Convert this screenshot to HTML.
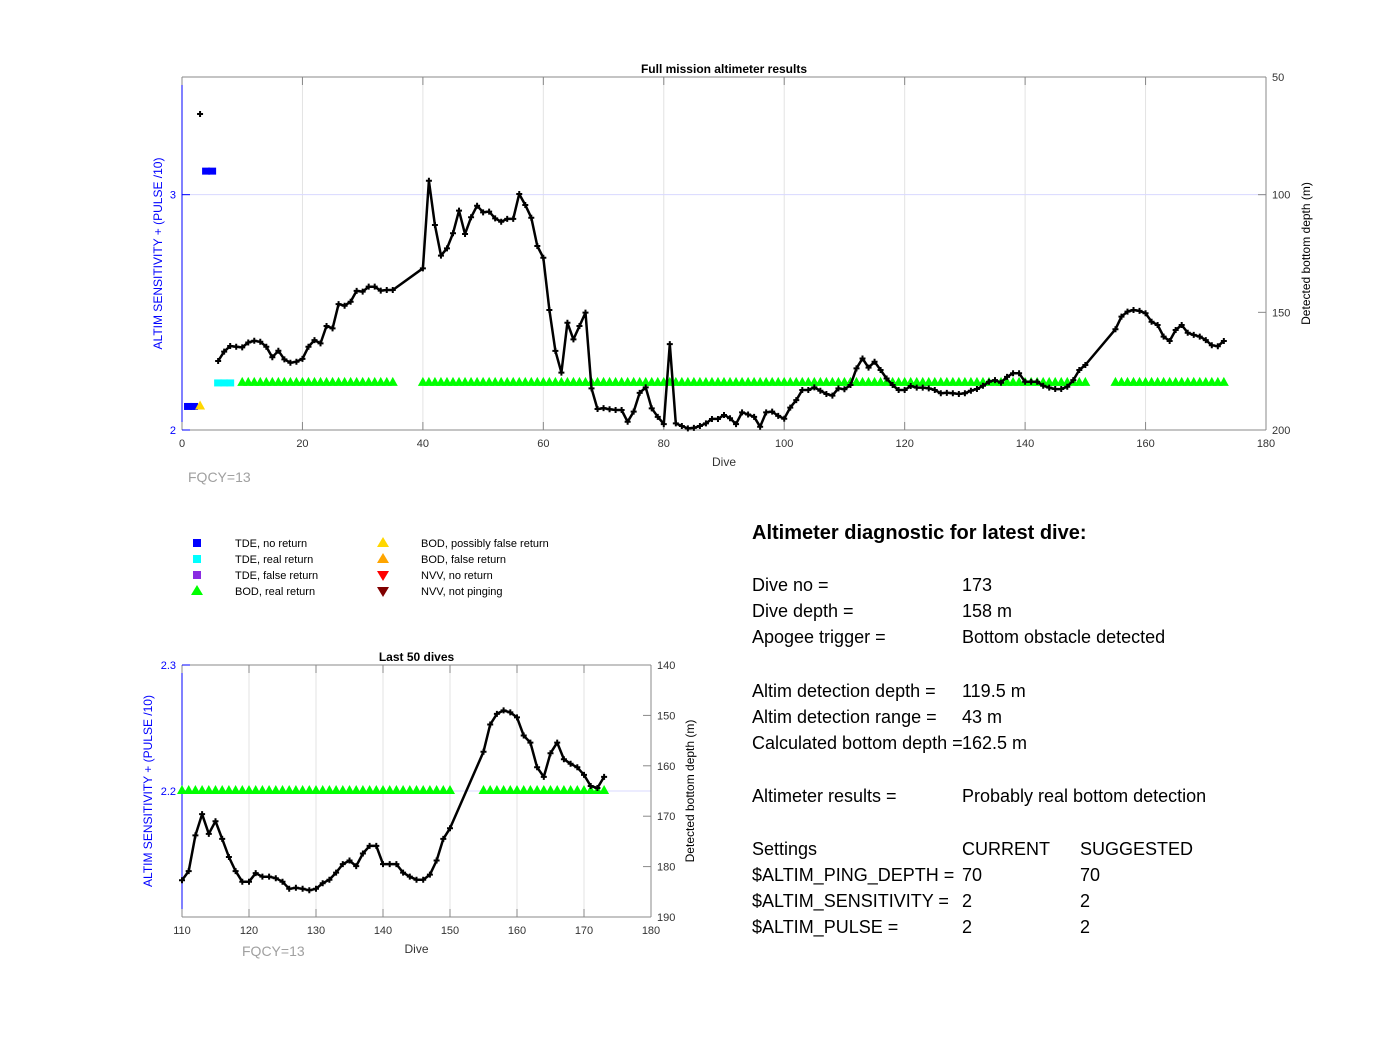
<!DOCTYPE html>
<html><head><meta charset="utf-8">
<style>
body{margin:0;background:#fff;width:1400px;height:1032px;overflow:hidden;font-family:"Liberation Sans",Arial,sans-serif}
svg text{font-family:"Liberation Sans",Arial,sans-serif}
</style></head>
<body>
<svg id="fig" width="1400" height="1032" xmlns="http://www.w3.org/2000/svg">
<g id="main"></g>
<g id="small"></g>
<g font-size="11" fill="#000">
  <rect x="193" y="539" width="8" height="8" fill="#0000ff"/><text x="235" y="547">TDE, no return</text>
  <rect x="193" y="555" width="8" height="8" fill="#00ffff"/><text x="235" y="563">TDE, real return</text>
  <rect x="193" y="571" width="8" height="8" fill="#8a2be2"/><text x="235" y="579">TDE, false return</text>
  <polygon points="197,585 203,595 191,595" fill="#00ff00"/><text x="235" y="595">BOD, real return</text>
  <polygon points="383,537 389,547 377,547" fill="#ffd700"/><text x="421" y="547">BOD, possibly false return</text>
  <polygon points="383,553 389,563 377,563" fill="#ffa500"/><text x="421" y="563">BOD, false return</text>
  <polygon points="377,571 389,571 383,581" fill="#ff0000"/><text x="421" y="579">NVV, no return</text>
  <polygon points="377,587 389,587 383,597" fill="#800000"/><text x="421" y="595">NVV, not pinging</text>
</g>
<g font-size="18" fill="#000">
  <text x="752" y="539" font-size="20" font-weight="bold">Altimeter diagnostic for latest dive:</text>
  <text x="752" y="591">Dive no =</text><text x="962" y="591">173</text>
  <text x="752" y="617">Dive depth =</text><text x="962" y="617">158 m</text>
  <text x="752" y="643">Apogee trigger =</text><text x="962" y="643">Bottom obstacle detected</text>
  <text x="752" y="697">Altim detection depth =</text><text x="962" y="697">119.5 m</text>
  <text x="752" y="723">Altim detection range =</text><text x="962" y="723">43 m</text>
  <text x="752" y="749">Calculated bottom depth =</text><text x="962" y="749">162.5 m</text>
  <text x="752" y="802">Altimeter results =</text><text x="962" y="802">Probably real bottom detection</text>
  <text x="752" y="855">Settings</text><text x="962" y="855">CURRENT</text><text x="1080" y="855">SUGGESTED</text>
  <text x="752" y="881">$ALTIM_PING_DEPTH =</text><text x="962" y="881">70</text><text x="1080" y="881">70</text>
  <text x="752" y="907">$ALTIM_SENSITIVITY =</text><text x="962" y="907">2</text><text x="1080" y="907">2</text>
  <text x="752" y="933">$ALTIM_PULSE =</text><text x="962" y="933">2</text><text x="1080" y="933">2</text>
</g>
</svg>
<script>
const dives = [3,6,7,8,9,10,11,12,13,14,15,16,17,18,19,20,21,22,23,24,25,26,27,28,29,30,31,32,33,34,35,
40,41,42,43,44,45,46,47,48,49,50,51,52,53,54,55,56,57,58,59,60,61,62,63,64,65,66,67,68,69,
70,71,72,73,74,75,76,77,78,79,80,81,82,83,84,85,86,87,88,89,90,91,92,93,94,95,96,97,98,99,
100,101,102,103,104,105,106,107,108,109,110,111,112,113,114,115,116,117,118,119,120,121,122,123,124,125,126,127,128,129,
130,131,132,133,134,135,136,137,138,139,140,141,142,143,144,145,146,147,148,149,150,
155,156,157,158,159,160,161,162,163,164,165,166,167,168,169,170,171,172,173];
const depths = [65.7,170.7,166.7,164.3,164.6,164.9,162.8,162.1,162.5,164.6,169.1,166.3,170.0,171.4,171.0,169.8,164.6,161.8,163.2,155.8,156.8,146.5,147.2,145.5,140.9,141.2,139.1,139.1,140.8,140.5,140.5,
131.3,94.1,112.9,125.9,122.8,116.4,106.8,116.7,109.6,104.7,107.5,107.2,110.1,111.5,110.3,110.3,99.7,104.4,109.8,121.8,126.8,149.0,166.4,175.6,154.4,161.5,155.8,150.1,182.3,191.1,
190.7,191.2,191.5,191.5,196.5,192.2,184.2,181.9,190.8,194.4,197.5,163.5,197.2,198.3,199.3,199.1,198.3,197.2,195.3,195.3,193.6,195.0,197.5,192.5,193.4,194.4,198.6,192.5,192.2,194.0,
195.2,190.5,187.3,183.0,183.0,181.9,183.3,184.7,185.4,182.3,182.7,180.9,173.8,169.6,173.5,171.0,174.5,178.1,180.9,183.0,183.0,181.3,182.0,182.0,182.3,183.0,184.4,184.2,184.4,184.7,
184.4,183.3,182.6,181.2,179.5,178.8,179.9,177.4,175.9,175.9,179.5,179.5,179.5,181.2,182.0,182.6,182.6,181.6,178.8,174.5,172.4,
157.2,151.8,149.7,149.0,149.4,150.4,154.0,155.4,160.3,162.2,157.5,155.4,158.7,159.6,160.3,161.8,164.0,164.4,162.2];
const bodRealDives = [];
for (let d=10; d<=35; d++) bodRealDives.push(d);
for (let d=40; d<=150; d++) bodRealDives.push(d);
for (let d=155; d<=173; d++) bodRealDives.push(d);
const bodRealValue = 2.2;
const tdeNoDives = [1,2,4,5];
const tdeNoValues = [2.1,2.1,3.1,3.1];
const tdeRealDives = [6,7,8];
const tdeRealValues = [2.2,2.2,2.2];
const bodPossDives = [3];
const bodPossValues = [2.1];
const mainXTicks = [0,20,40,60,80,100,120,140,160,180];
const mainLeftTicks = [2,3];
const mainRightTicks = [50,100,150,200];
const smallXTicks = [110,120,130,140,150,160,170,180];
const smallLeftTicks = [2.2,2.3];
const smallRightTicks = [140,150,160,170,180,190];

const NS="http://www.w3.org/2000/svg";
function mk(parent, tag, attrs, text){
  const e=document.createElementNS(NS,tag);
  for(const k in attrs) e.setAttribute(k,attrs[k]);
  if(text!==undefined) e.textContent=text;
  parent.appendChild(e); return e;
}
function plot(g, cfg){
  const {L,R,T,B,x0,x1,l0,l1,r0,r1} = cfg;
  const X = v => L + (v-x0)/(x1-x0)*(R-L);
  const YL = v => B - (v-l0)/(l1-l0)*(B-T);
  const YR = v => T + (v-r0)/(r1-r0)*(B-T);
  // grid
  cfg.xt.forEach(t=>{ if(t>x0&&t<x1){ const l=mk(g,'line',{x1:X(t),x2:X(t),y1:T,y2:B,stroke:'#e3e3e3','stroke-width':1});
    
     }});
  cfg.lt.forEach(t=>{ if(t>l0&&t<l1){ const l=mk(g,'line',{x1:L,x2:R,y1:YL(t),y2:YL(t),stroke:'#d8d8ff','stroke-width':1});
    
     }});
  // axes box
  mk(g,'line',{x1:L,x2:R,y1:T,y2:T,stroke:'#888'});
  mk(g,'line',{x1:L,x2:R,y1:B,y2:B,stroke:'#888'});
  mk(g,'line',{x1:R,x2:R,y1:T,y2:B,stroke:'#888'});
  mk(g,'line',{x1:L,x2:L,y1:T,y2:B,stroke:'#0000ff'});
  const fs=cfg.fs;
  cfg.xt.forEach(t=>{
    mk(g,'line',{x1:X(t),x2:X(t),y1:B,y2:B-8,stroke:'#888'});
    mk(g,'line',{x1:X(t),x2:X(t),y1:T,y2:T+8,stroke:'#888'});
    const tx=mk(g,'text',{x:X(t),y:B+17,'font-size':fs,'text-anchor':'middle',fill:'#333'},String(t));
    
    
  });
  cfg.lt.forEach(t=>{
    mk(g,'line',{x1:L,x2:L+8,y1:YL(t),y2:YL(t),stroke:'#0000ff'});
    const tx=mk(g,'text',{x:L-6,y:YL(t)+4,'font-size':fs,'text-anchor':'end',fill:'#0000ff'},String(t));
    
    
  });
  cfg.rt.forEach(t=>{
    mk(g,'line',{x1:R,x2:R-8,y1:YR(t),y2:YR(t),stroke:'#888'});
    const tx=mk(g,'text',{x:R+6,y:YR(t)+4,'font-size':fs,fill:'#333'},String(t));
    
    
  });
  const ttl=mk(g,'text',{x:(L+R)/2,y:T-4,'font-size':12,'font-weight':'bold','text-anchor':'middle'},cfg.title);
  
  
  const xl=mk(g,'text',{x:(L+R)/2,y:B+36,'font-size':12,'text-anchor':'middle',fill:'#333'},'Dive');
  
  
  const yl=mk(g,'text',{transform:`translate(${cfg.ylx},${(T+B)/2}) rotate(-90)`,'font-size':12,'text-anchor':'middle',fill:'#0000ff'},'ALTIM SENSITIVITY + (PULSE /10)');
  
  
  const yr=mk(g,'text',{transform:`translate(${cfg.yrx},${(T+B)/2}) rotate(-90)`,'font-size':12,'text-anchor':'middle',fill:'#000'},'Detected bottom depth (m)');
  
  
  const fq=mk(g,'text',{x:cfg.fqx,y:cfg.fqy,'font-size':14,fill:'#a0a0a0'},'FQCY=13');
  
  
  const inX = d => d>=x0 && d<=x1;
  // markers
  const tri=(d,v,col,name)=>{ const x=X(d),y=YL(v);
    const p=mk(g,'polygon',{points:`${x},${y-6} ${x+5},${y+3} ${x-5},${y+3}`,fill:col});
    
     };
  const sq=(d,v,col,name)=>{ const x=X(d),y=YL(v);
    const r=mk(g,'rect',{x:x-4,y:y-3.5,width:8,height:7,fill:col});
    
     };
  bodRealDives.forEach(d=>{ if(inX(d)) tri(d,bodRealValue,'#00ff00','bod-real-marker'); });
  tdeNoDives.forEach((d,i)=>{ if(inX(d)) sq(d,tdeNoValues[i],'#0000ff','tde-no-return-marker'); });
  tdeRealDives.forEach((d,i)=>{ if(inX(d)) sq(d,tdeRealValues[i],'#00ffff','tde-real-marker'); });
  bodPossDives.forEach((d,i)=>{ if(inX(d)) tri(d,bodPossValues[i],'#ffd700','bod-possible-false-marker'); });
  // depth line (segments skip singleton dive 3 gap)
  let pts=[];
  dives.forEach((d,i)=>{ if(inX(d)) pts.push([d,depths[i]]); });
  let path='';
  pts.forEach((p,i)=>{
    const cmd = (i===0 || (pts[i-1][0]===3)) ? 'M' : 'L';
    path += cmd + X(p[0]).toFixed(1)+','+YR(p[1]).toFixed(1)+' ';
  });
  const ln=mk(g,'path',{d:path,fill:'none',stroke:'#000','stroke-width':2.5,'stroke-linejoin':'round'});
  
  
  pts.forEach(p=>{
    const x=X(p[0]),y=YR(p[1]);
    const m=mk(g,'path',{d:`M${x-3},${y}H${x+3}M${x},${y-3}V${y+3}`,stroke:'#000','stroke-width':2});
    
    
  });
}
plot(document.getElementById('main'),{L:182,R:1266,T:77,B:430,x0:0,x1:180,l0:2,l1:3.5,r0:50,r1:200,
  xt:mainXTicks,lt:mainLeftTicks,rt:mainRightTicks,fs:11,title:'Full mission altimeter results',ylx:162,yrx:1310,fqx:188,fqy:482});
plot(document.getElementById('small'),{L:182,R:651,T:665,B:917,x0:110,x1:180,l0:2.1,l1:2.3,r0:140,r1:190,
  xt:smallXTicks,lt:smallLeftTicks,rt:smallRightTicks,fs:11,title:'Last 50 dives',ylx:152,yrx:694,fqx:242,fqy:956});
</script>
</body></html>
